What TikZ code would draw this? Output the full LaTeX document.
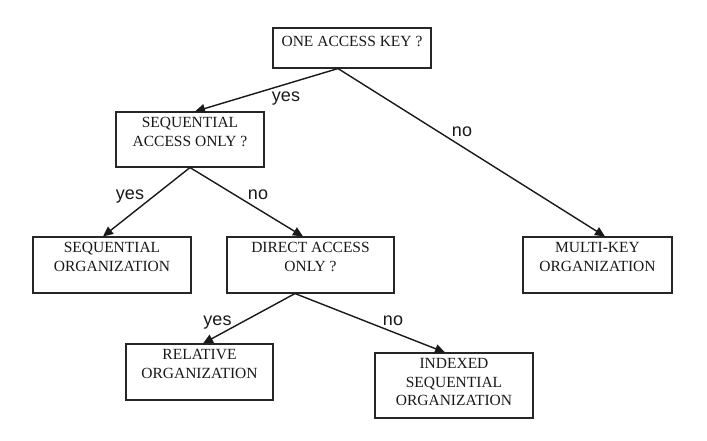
\documentclass[tikz,border=0pt]{standalone}
\usepackage{fontspec}
\setmainfont{Liberation Serif}
\newfontfamily\lblfont{Liberation Sans}
\usetikzlibrary{arrows.meta}
\begin{document}
\begin{tikzpicture}[x=1pt,y=-1pt,
  box/.style={draw=black!85,line width=1.1pt,rectangle,inner sep=0pt},
  txt/.style={anchor=north,inner sep=0pt,align=center,font=\fontsize{15.5}{18.5}\selectfont,text=black!90},
  lbl/.style={anchor=base,inner sep=0pt,font=\lblfont\fontsize{18}{20}\selectfont,text=black!90},
  conn/.style={draw=black!90,line width=1.4pt,-{Triangle[length=10pt,width=9pt]}}]
\useasboundingbox[fill=white] (0,0) rectangle (707,441);
% boxes
\node[box,minimum width=158pt,minimum height=40pt] (b1) at (352,48) {};
\node[box,minimum width=148pt,minimum height=55pt] (b2) at (190,139.5) {};
\node[box,minimum width=158pt,minimum height=56pt] (b3) at (112,265) {};
\node[box,minimum width=167pt,minimum height=56pt] (b4) at (310.5,265) {};
\node[box,minimum width=149pt,minimum height=56pt] (b5) at (597.5,265) {};
\node[box,minimum width=147pt,minimum height=56pt] (b6) at (199.5,372) {};
\node[box,minimum width=158pt,minimum height=65pt] (b7) at (454,385.5) {};
% texts
\node[txt] (t1) at ([yshift=-9pt]b1.north) {ONE ACCESS KEY ?};
\node[txt] (t2) at ([yshift=-6pt]b2.north) {SEQUENTIAL\\ACCESS ONLY ?};
\node[txt] (t3) at ([yshift=-6pt]b3.north) {SEQUENTIAL\\ORGANIZATION};
\node[txt] (t4) at ([yshift=-6pt]b4.north) {DIRECT ACCESS\\ONLY ?};
\node[txt] (t5) at ([yshift=-6pt]b5.north) {MULTI-KEY\\ORGANIZATION};
\node[txt] (t6) at ([yshift=-6pt]b6.north) {RELATIVE\\ORGANIZATION};
\node[txt] (t7) at ([yshift=-6pt]b7.north) {INDEXED\\SEQUENTIAL\\ORGANIZATION};
% connectors
\coordinate (s1) at ([xshift=-14pt]b1.south);
\coordinate (s4) at ([xshift=-15.5pt]b4.south);
\draw[conn] (s1) -- ([xshift=5pt]b2.north);
\draw[conn] (s1) -- ([xshift=7.5pt]b5.north);
\draw[conn] (b2.south) -- ([xshift=-9pt]b3.north);
\draw[conn] (b2.south) -- ([xshift=-7.5pt]b4.north);
\draw[conn] (s4) -- ([xshift=3.5pt]b6.north);
\draw[conn] (s4) -- ([xshift=-9pt]b7.north);
% labels
\node[lbl] (l1) at (286,102) {yes};
\node[lbl] (l2) at (462,137) {no};
\node[lbl] (l3) at (130,199) {yes};
\node[lbl] (l4) at (258,199) {no};
\node[lbl] (l5) at (217.5,325) {yes};
\node[lbl] (l6) at (393,325) {no};
\end{tikzpicture}
\end{document}
